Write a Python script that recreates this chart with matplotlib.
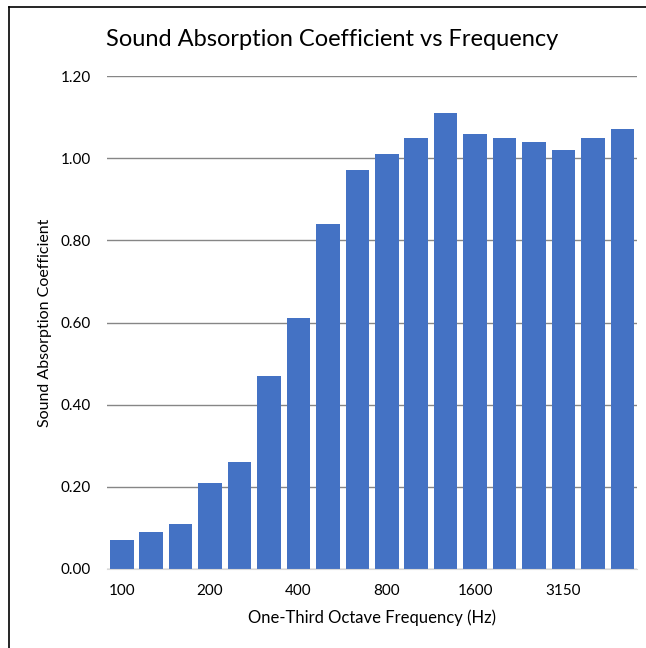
import numpy as np
import matplotlib
matplotlib.use('Agg')
import matplotlib.pyplot as plt
from matplotlib.lines import Line2D

plt.rcParams['font.family'] = ['Lato', 'DejaVu Sans']

# one-third octave bands and measured absorption
freqs = ['100', '125', '160', '200', '250', '315', '400', '500', '630',
         '800', '1000', '1250', '1600', '2000', '2500', '3150', '4000', '5000']
alpha = [0.07, 0.09, 0.11, 0.21, 0.26, 0.47, 0.61, 0.84, 0.97,
         1.01, 1.05, 1.11, 1.06, 1.05, 1.04, 1.02, 1.05, 1.07]
yticks = [0.0, 0.2, 0.4, 0.6, 0.8, 1.0, 1.2]

fig = plt.figure(figsize=(6.46, 6.48), dpi=100)
ax = fig.add_axes([107/646, 1-569/648, (637-107)/646, (569-76)/648])

x = np.arange(len(freqs))
ax.bar(x, alpha, width=0.8, color='#4472C4', zorder=3)

ax.set_xlim(-0.5, len(freqs)-0.5)
ax.set_ylim(0, 1.2)
ax.set_yticks(yticks)
ax.set_yticklabels(['%.2f' % v for v in yticks])
ax.set_xticks(x[::3])
ax.set_xticklabels(freqs[::3])
ax.tick_params(axis='both', length=0, labelsize=11, colors='#000000')
ax.tick_params(axis='x', pad=11)
ax.tick_params(axis='y', pad=11.5)

ax.yaxis.grid(True, color='#868686', linewidth=1.0, zorder=0)
for s in ['top', 'right', 'left']:
    ax.spines[s].set_visible(False)
ax.spines['bottom'].set_color('#d9d9d9')
ax.spines['bottom'].set_zorder(4)

ax.set_ylabel('Sound Absorption Coefficient', fontsize=11.5, labelpad=6)
ax.set_xlabel('One-Third Octave Frequency (Hz)', fontsize=12, labelpad=8)
fig.text(332/646, 1-40/648, 'Sound Absorption Coefficient vs Frequency',
         ha='center', va='center', fontsize=17)

# chart frame (only left and top edges visible in the crop)
fig.add_artist(Line2D([8.5/646, 8.5/646], [0, 1-7/648], color='black', lw=1.2))
fig.add_artist(Line2D([8.5/646, 1], [1-7/648, 1-7/648], color='black', lw=1.2))

fig.savefig('out.png', dpi=100)
